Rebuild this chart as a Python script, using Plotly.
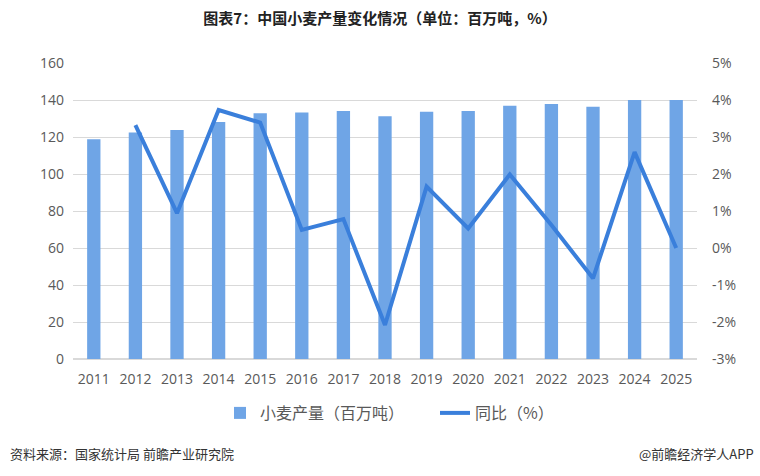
import plotly.graph_objects as go

years = ["2011", "2012", "2013", "2014", "2015", "2016", "2017", "2018",
         "2019", "2020", "2021", "2022", "2023", "2024", "2025"]
production = [118.8, 122.4, 123.8, 128.1, 132.8, 133.2, 134.1, 131.2,
              133.7, 134.1, 136.9, 137.8, 136.4, 140.0, 140.0]
yoy_years = years[1:]
yoy = [3.32, 0.94, 3.73, 3.39, 0.49, 0.78, -2.08, 1.66, 0.53, 1.99, 0.62, -0.82, 2.59, 0.0]

left_ticks = [0, 20, 40, 60, 80, 100, 120, 140, 160]
right_ticks = [-3, -2, -1, 0, 1, 2, 3, 4, 5]
right_labels = [f"{v}%" for v in right_ticks]

bar_color = "#6fa5e6"
line_color = "#3a7fdb"
tick_font = dict(family="Open Sans, Noto Sans CJK SC, sans-serif", size=14, color="#595959")
cjk = "Noto Sans CJK SC, sans-serif"

# plot area in pixels
L, R, T, B = 73, 697, 63, 359
PW, PH = R - L, B - T
def px_x(x): return (x - L) / PW
def px_y(y): return (B - y) / PH

fig = go.Figure()
fig.add_trace(go.Bar(x=years, y=production, name="小麦产量（百万吨）",
                     marker=dict(color=bar_color, line=dict(width=0)), width=0.32,
                     yaxis="y"))
fig.add_trace(go.Scatter(x=yoy_years, y=yoy, name="同比（%）", mode="lines",
                         line=dict(color=line_color, width=4), yaxis="y2"))

fig.update_layout(
    width=760, height=476,
    margin=dict(l=L, r=760 - R, t=T, b=476 - B),
    paper_bgcolor="white", plot_bgcolor="white",
    showlegend=True,
    title=dict(text="<b>图表7：中国小麦产量变化情况（单位：百万吨，%）</b>",
               x=0.5, xanchor="center", y=1 - 19/476, yanchor="middle",
               font=dict(family=cjk, size=15, color="#222222")),
    xaxis=dict(tickfont=tick_font, showgrid=False, showline=False, ticks="",
               ticklabelstandoff=10),
    yaxis=dict(range=[0, 160], tickvals=left_ticks, tickfont=tick_font,
               gridcolor="#d9d9d9", gridwidth=1, zeroline=True, zerolinecolor="#d9d9d9",
               showline=False, ticks="", ticklabelstandoff=8),
    yaxis2=dict(range=[-3, 5], tickvals=right_ticks, ticktext=right_labels,
                overlaying="y", side="right", showgrid=False, zeroline=False,
                tickfont=tick_font, ticks="", ticklabelstandoff=14),
    legend=dict(orientation="h", x=px_x(220), xanchor="left", y=px_y(413),
                yanchor="middle",
                font=dict(family=cjk, size=16, color="#595959"),
                itemwidth=30, entrywidth=170, entrywidthmode="pixels"),
    annotations=[
        dict(text="资料来源：国家统计局 前瞻产业研究院", x=px_x(8), y=px_y(453),
             xref="paper", yref="paper", xanchor="left", yanchor="middle",
             showarrow=False, font=dict(family=cjk, size=13, color="#333333")),
        dict(text="@前瞻经济学人APP", x=px_x(756), y=px_y(453),
             xref="paper", yref="paper", xanchor="right", yanchor="middle",
             showarrow=False, font=dict(family=cjk, size=13, color="#333333")),
    ],
)

fig.write_html("out.html")
